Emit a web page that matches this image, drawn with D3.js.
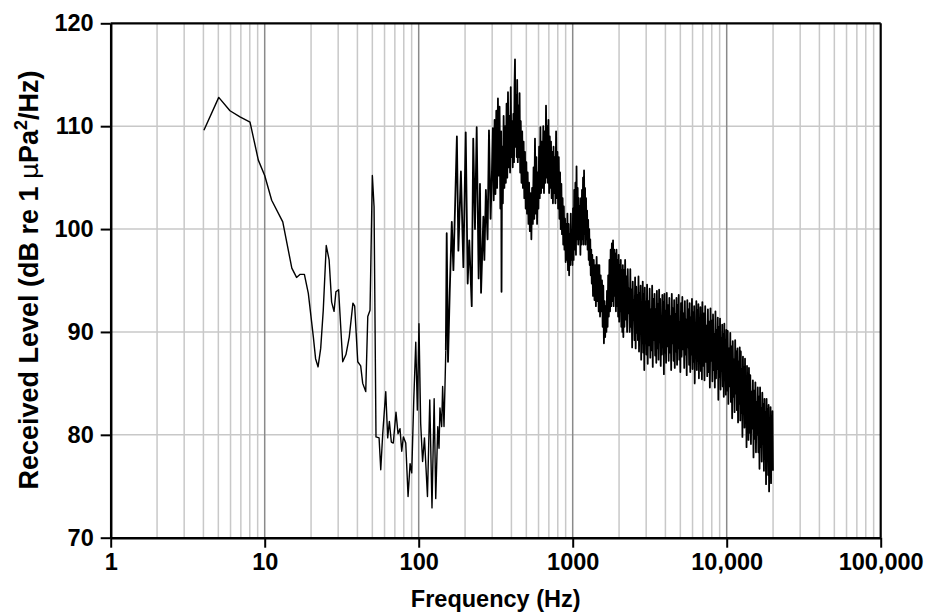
<!DOCTYPE html>
<html><head><meta charset="utf-8">
<script src="https://cdn.jsdelivr.net/npm/d3@7"></script>
<style>body{margin:0;background:#fff}</style>
</head><body>
<svg id="chart" width="933" height="613"></svg>
<script>
// ---- data ----
const freqLow = [4.03,5.03,5.95,6.91,8.03,9.09,10.0,11.1,13.1,15.0,16.1,17.0,18.1,19.2,20.7,21.4,22.2,23.1,24.0,25.1,26.2,27.2,28.2,29.0,30.2,32.1,33.7,35.4,37.4,38.4,40.2,42.0,43.3,45.3,46.7,48.3,50.0,51.3,52.8,55.3,56.7,58.4,61.1,62.9,64.5,66.4,68.4,71.2,73.4,75.6,77.6,79.5,82.4,85.3,87.9,90.1,92.9,95.7,98.0,100.4,103,106,109,114,118,122,126,129,133,135.5,137.4,141,143,146];
const levelLow = [109.6,112.8,111.5,110.9,110.4,106.7,105.2,102.8,100.7,96.2,95.3,95.6,95.6,93.75,89.5,87.4,86.6,88.4,92.1,98.4,97.0,92.9,92.0,93.9,94.1,87.1,87.8,89.5,92.8,92.5,87.1,86.7,85.0,84.2,91.5,92.1,105.2,102.2,79.8,79.7,76.6,80.1,84.2,79.7,81.3,79.3,79.2,82.2,80.1,80.6,78.4,79.8,79.2,74.0,77.2,76.3,83.4,89.0,82.4,90.8,81.1,77.4,79.7,74.0,83.4,72.9,83.5,73.8,80.8,78.7,82.6,80.8,84.7,80.8];

const freqMid = [150,152,155,159,164,168,177,181,188,195,202,208,213,221,226,232,238,245,250,254,263,267,273,280,286,293,299,
  303,307,311,315,319,323,327,331,335,339,343,345,348,352,356,360,364,368,372,376,380,384,388,392,396,400,404,408,412,416,419,422,425,429,433,436,440,444,448,452,456,460,465,470,475,480,485,490,495,500,505,510,516,521,527,533,539,545,551,557,563,569,575,581,587,593,599,605,611,617,623,630,637,644,651,658,665,671,678,684,690,696,703,710,717,723,730,737,744,751,758,765,772,780,788,796,804,812,820,828,836,844,852,860,868,876,884,892,900,908,916,924,932,940,948,956,964,972,980,988,996,
  1005,1014,1023,1032,1041,1050,1059,1068,1077,1086,1095,1104,1113,1122,1131,1140,1149,1158,1167,1176,1185,1194,1203,1212,1221,1230,1240,1250,1260,1270,1280,1290,1300,1310,1320,1330,1340,1355,1370,1385,1400,1415,1430,1445,1460,1475,1490,1505,1520,1535,1550,1565,1580,1595,1610,1625,1640,1655,1670,1685,1700,1716,1732,1748,1764,1780,1796,1812,1828,1844,1860,1876,1892,1908,1924,1940,1956,1972,1988,2004,2020,2036,2052,2068,2084,2100,2116,2132,2150,2168];
const levelMid = [88.2,99.6,87.1,93.8,100.7,96.0,109.0,97.9,105.6,96.3,109.4,94.7,98.9,92.5,108.8,100,109.9,95.2,104.4,93.8,101.2,97,103.8,99,109.6,101,105.7,
  109.8,102.8,110.6,103.4,111.5,104.0,112.7,105.2,111.9,102.0,109.5,93.9,108.0,102.5,111.0,104.0,110.0,104.5,112.2,105.0,113.3,106.0,111.0,105.5,113.8,107.0,110.5,106.0,111.2,106.5,114.0,116.5,108.0,113.0,107.0,114.5,106.5,112.0,107.0,113.2,105.5,110.5,104.5,109.5,104.0,108.5,103.0,107.5,102.0,106.5,101.5,105.5,100.5,104.5,99.8,103.5,99.0,104.0,100.5,106.0,101.0,108.8,101.5,107.0,100.5,105.5,102.0,108.0,103.0,109.9,103.5,108.5,104.0,110.0,103.5,109.5,104.5,112.0,105.0,110.0,104.5,110.6,103.5,109.0,104.0,108.5,103.0,107.5,102.5,108.0,103.5,107.0,102.5,109.5,103.0,107.5,102.0,107.0,101.0,105.5,100.0,104.4,99.5,103.0,98.5,102.2,98.0,101.0,96.8,100.5,97.0,101.5,96.0,100.5,95.5,99.5,96.5,101.5,97.0,99.3,96.5,
  102.0,97.0,103.8,98.0,104.5,97.5,106.1,99.0,104.0,98.5,103.0,99.0,102.2,97.5,103.0,98.5,103.8,99.0,105.0,98.5,105.7,99.5,104.0,98.5,103.0,99.0,101.8,98.0,100.9,97.0,100.0,96.5,99.0,95.5,98.0,94.7,97.5,93.5,97.0,93.1,96.5,92.5,97.3,93.0,96.5,92.0,96.5,91.5,95.5,92.0,95.0,90.5,94.5,88.9,93.0,89.5,92.5,90.0,94.0,90.5,95.5,91.5,97.0,92.0,98.0,92.5,98.6,93.0,98.9,92.5,98.0,93.5,97.6,92.0,98.0,92.5,97.0,91.5,97.5,91.0,96.5,92.0,97.0,90.5,96.0,90.0,96.5,89.5,96.0,90.5];

const freqHigh = [2190,2212,2234,2256,2278,2300,2322,2344,2366,2388,2410,2432,2454,2476,2498,2520,2542,2564,2586,2608,2630,2652,2674,2696,2718,2740,2762,2784,2806,2828,2850,2872,2894,2916,2938,2960,2982,
  3010,3040,3070,3100,3130,3160,3190,3220,3250,3280,3310,3340,3370,3400,3430,3460,3490,3520,3550,3580,3610,3640,3670,3700,3730,3760,3790,3820,3850,3880,3910,3940,3970,
  4000,4040,4080,4120,4160,4200,4240,4280,4320,4360,4400,4440,4480,4520,4560,4600,4640,4680,4720,4760,4800,4840,4880,4920,4960,
  5000,5050,5100,5150,5200,5250,5300,5350,5400,5450,5500,5550,5600,5650,5700,5750,5800,5850,5900,5950,6000,6050,6100,6150,6200,6250,6300,6350,6400,6450,6500,6550,6600,6650,6700,6750,6800,6850,6900,6950,
  7025,7100,7175,7250,7325,7400,7475,7550,7625,7700,7775,7850,7925,8000,8075,8150,8225,8300,8375,8450,8525,8600,8675,8750,8825,8900,8975,9050,9125,9200,9275,9350,9425,9500,9575,9650,9725,9800,9875,9950,
  10050,10150,10250,10350,10450,10550,10650,10750,10850,10950,11050,11150,11250,11350,11450,11550,11650,11750,11850,11950,12050,12150,12250,12350,12450,12550,12650,12750,12850,12950,13050,13150,13250,13350,13450,13550,13650,13750,13850,13950,
  14090,14230,14370,14510,14650,14790,14930,15070,15210,15350,15490,15630,15770,15910,16050,16190,16330,16470,16610,16750,16890,17030,17170,17310,17450,17590,17730,17870,18010,18150,18290,18430,18570,18710,18850,18990,19130,19270,19410,19550,19690,19830,19970];
const levelHigh = [97.0,91.2,95.4,90.0,96.1,91.8,94.2,90.0,96.1,90.5,94.1,88.5,94.9,91.2,93.1,89.2,95.3,88.4,94.4,89.9,93.6,89.2,95.4,88.1,93.8,89.9,94.5,87.3,92.7,88.9,94.9,88.0,93.7,86.3,94.3,88.9,93.0,
  87.8,94.6,86.9,93.0,88.7,94.2,87.5,92.2,88.2,94.5,86.6,93.2,89.2,93.7,87.7,92.2,87.0,94.0,88.4,92.7,87.3,94.1,89.0,93.2,86.7,91.5,87.8,93.6,88.5,92.9,85.9,93.7,88.0,
  92.1,87.0,93.8,88.6,92.6,87.2,93.3,88.0,91.5,86.3,93.7,88.9,92.3,87.2,93.1,86.5,91.7,88.1,93.3,86.8,92.6,88.4,93.6,87.3,91.0,
  86.1,92.8,87.6,93.4,88.3,91.8,86.5,93.0,87.8,91.2,85.8,93.1,88.5,92.2,86.8,92.8,86.1,91.4,87.8,93.2,86.4,91.9,87.1,92.5,85.0,90.7,87.7,93.0,86.3,92.1,87.2,92.7,85.5,91.1,87.8,92.4,86.2,91.5,85.4,92.9,
  86.7,91.8,85.3,92.5,87.1,90.6,85.7,92.2,86.1,91.0,84.6,92.3,87.2,91.1,85.2,91.7,86.3,89.8,84.6,92.0,85.5,90.2,86.4,91.4,83.4,90.5,85.6,91.3,84.4,89.4,86.2,90.7,84.7,89.8,83.7,90.8,85.3,89.2,83.9,90.2,
  84.3,90.1,83.0,88.4,84.7,89.9,83.2,88.6,81.6,89.1,83.7,87.3,82.2,89.2,84.0,88.1,82.4,88.4,81.2,87.1,83.0,88.5,81.4,88.1,82.1,86.4,79.8,87.6,82.4,86.6,80.7,87.4,81.4,85.4,78.8,86.7,81.3,85.9,79.5,86.5,
  80.2,85.8,79.1,84.2,80.6,85.3,77.8,84.3,79.6,85.1,78.3,83.2,80.0,84.6,78.3,83.7,76.7,84.6,78.8,82.6,77.4,84.1,79.1,83.0,76.5,83.5,77.7,82.2,75.2,83.5,77.9,82.5,76.1,82.9,74.5,81.2,77.2,82.7,75.3,81.6,77.7,82.3,76.5];

const xTickValues = [1,10,100,1000,10000,100000];
const xTickLabels = ["1","10","100","1000","10,000","100,000"];
const yTickValues = [70,80,90,100,110,120];

// ---- layout ----
const svg = d3.select("#chart");
const L = 110.7, R = 880.7, T = 23.3, B = 537.7;
const x = d3.scaleLog().domain([1,100000]).range([L,R]);
const y = d3.scaleLinear().domain([70,120]).range([B,T]);
const font = "'Liberation Sans', Arial, Helvetica, sans-serif";

// grid
const minor = x.ticks().filter(v => !xTickValues.includes(v));
svg.append("g").selectAll("line").data(minor).join("line")
  .attr("x1", d => x(d)).attr("x2", d => x(d)).attr("y1", T).attr("y2", B)
  .attr("stroke", "#c8c8c8").attr("stroke-width", 1.5);
svg.append("g").selectAll("line").data(yTickValues.filter(v => v > 70 && v < 120)).join("line")
  .attr("x1", L).attr("x2", R).attr("y1", d => y(d)).attr("y2", d => y(d))
  .attr("stroke", "#c8c8c8").attr("stroke-width", 1.5);
svg.append("g").selectAll("line").data(xTickValues.filter(v => v > 1 && v < 100000)).join("line")
  .attr("x1", d => x(d)).attr("x2", d => x(d)).attr("y1", T).attr("y2", B)
  .attr("stroke", "#8a8a8a").attr("stroke-width", 1.5);

// frame top/right
svg.append("line").attr("x1", L).attr("x2", R).attr("y1", T).attr("y2", T).attr("stroke", "#000").attr("stroke-width", 2.2);
svg.append("line").attr("x1", R).attr("x2", R).attr("y1", T).attr("y2", B).attr("stroke", "#000").attr("stroke-width", 2.2);

// data line: low-frequency part thin, dense part heavier
const toPts = (fs, ls) => fs.map((f, i) => ({f, v: ls[i]}));
const lowPts = toPts(freqLow, levelLow);
const densePts = toPts(freqMid, levelMid).concat(toPts(freqHigh, levelHigh));
const line = d3.line().x(d => x(d.f)).y(d => y(d.v));
svg.append("path").datum(lowPts.concat(densePts.slice(0, 1))).attr("d", line)
  .attr("fill", "none").attr("stroke", "#000").attr("stroke-width", 1.4)
  .attr("stroke-linejoin", "round");
svg.append("path").datum(densePts).attr("d", line)
  .attr("fill", "none").attr("stroke", "#000").attr("stroke-width", 1.8)
  .attr("stroke-linejoin", "round");

// axes
const ax = svg.append("g").attr("transform", `translate(0,${B})`)
  .call(d3.axisBottom(x).tickValues(xTickValues).tickFormat((d, i) => xTickLabels[i])
    .tickSize(10).tickSizeOuter(0).tickPadding(6));
const ay = svg.append("g").attr("transform", `translate(${L},0)`)
  .call(d3.axisLeft(y).tickValues(yTickValues).tickSize(10).tickSizeOuter(0).tickPadding(7));
[ax, ay].forEach(g => {
  g.select(".domain").attr("stroke", "#000").attr("stroke-width", 2.5);
  g.selectAll(".tick line").attr("stroke", "#000").attr("stroke-width", 2);
  g.selectAll(".tick text").attr("fill", "#000")
    .style("font-family", font).style("font-weight", "bold").style("font-size", "23.5px");
});

// titles
svg.append("text").attr("x", (L + R) / 2).attr("y", 607).attr("text-anchor", "middle")
  .style("font-family", font).style("font-weight", "bold").style("font-size", "23.5px")
  .text("Frequency (Hz)");
const yt = svg.append("text").attr("transform", "translate(37.5,280) rotate(-90)")
  .attr("text-anchor", "middle")
  .style("font-family", font).style("font-weight", "bold").style("font-size", "27px");
yt.append("tspan").text("Received Level (dB re 1 ");
yt.append("tspan").style("font-weight", "normal").style("font-family", "'DejaVu Sans', sans-serif").style("font-size","25px").text("μ");
yt.append("tspan").text("Pa");
yt.append("tspan").attr("dy", -11).style("font-size", "18px").text("2");
yt.append("tspan").attr("dy", 11).text("/Hz)");
</script>
</body></html>
